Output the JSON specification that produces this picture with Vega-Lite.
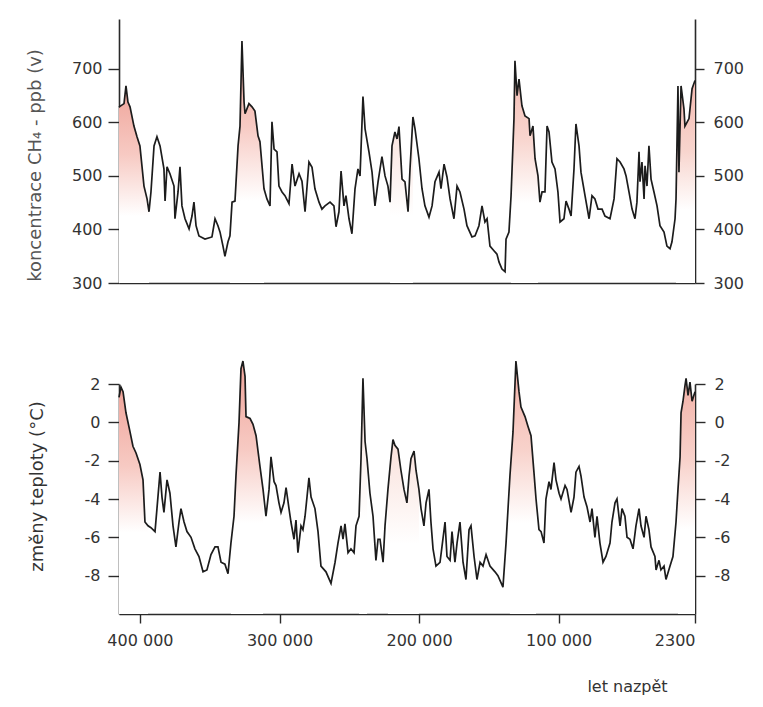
{
  "$schema": "https://vega.github.io/schema/vega-lite/v6.json",
  "background": "white",
  "padding": {"left": 26, "top": 19, "right": 8, "bottom": 8},
  "config": {
    "font": "DejaVu Sans",
    "view": {"stroke": null},
    "axis": {
      "grid": false,
      "domainColor": "#2a2a2a",
      "domainWidth": 1.6,
      "tickColor": "#2a2a2a",
      "tickWidth": 1.4,
      "labelColor": "#333333",
      "labelFont": "DejaVu Sans",
      "labelFontSize": 16,
      "titleColor": "#444444",
      "titleFont": "DejaVu Sans",
      "titleFontSize": 18,
      "titleFontWeight": "normal"
    }
  },
  "datasets": {
    "ch4": [
      {"age": 415000, "ch4": 628}, {"age": 414300, "ch4": 630}, {"age": 411400, "ch4": 635}, {"age": 410000, "ch4": 668},
      {"age": 408600, "ch4": 638}, {"age": 407100, "ch4": 629}, {"age": 404300, "ch4": 593}, {"age": 402100, "ch4": 573},
      {"age": 400000, "ch4": 556}, {"age": 397100, "ch4": 481}, {"age": 394900, "ch4": 457}, {"age": 393500, "ch4": 433},
      {"age": 392100, "ch4": 470}, {"age": 389900, "ch4": 556}, {"age": 387800, "ch4": 573}, {"age": 385600, "ch4": 556},
      {"age": 382800, "ch4": 513}, {"age": 382000, "ch4": 453}, {"age": 380600, "ch4": 517}, {"age": 378500, "ch4": 504},
      {"age": 375600, "ch4": 481}, {"age": 374900, "ch4": 420}, {"age": 372700, "ch4": 470}, {"age": 371300, "ch4": 517},
      {"age": 369900, "ch4": 444}, {"age": 367700, "ch4": 420}, {"age": 364800, "ch4": 401}, {"age": 362700, "ch4": 425},
      {"age": 361300, "ch4": 451}, {"age": 359800, "ch4": 407}, {"age": 357700, "ch4": 388}, {"age": 353400, "ch4": 382},
      {"age": 348400, "ch4": 386}, {"age": 346200, "ch4": 420}, {"age": 344100, "ch4": 407}, {"age": 342600, "ch4": 395},
      {"age": 340500, "ch4": 369}, {"age": 339100, "ch4": 350}, {"age": 336900, "ch4": 377}, {"age": 335500, "ch4": 388},
      {"age": 334000, "ch4": 451}, {"age": 331900, "ch4": 453}, {"age": 329700, "ch4": 556}, {"age": 328300, "ch4": 593},
      {"age": 326900, "ch4": 752}, {"age": 325400, "ch4": 638}, {"age": 324700, "ch4": 616}, {"age": 321900, "ch4": 635},
      {"age": 319700, "ch4": 629}, {"age": 317600, "ch4": 621}, {"age": 315400, "ch4": 575}, {"age": 314000, "ch4": 564},
      {"age": 311100, "ch4": 476}, {"age": 309000, "ch4": 457}, {"age": 306800, "ch4": 444}, {"age": 305400, "ch4": 601},
      {"age": 303900, "ch4": 550}, {"age": 301800, "ch4": 545}, {"age": 300400, "ch4": 481}, {"age": 298200, "ch4": 470},
      {"age": 296100, "ch4": 463}, {"age": 293200, "ch4": 448}, {"age": 291000, "ch4": 522}, {"age": 288900, "ch4": 481},
      {"age": 286000, "ch4": 504}, {"age": 283900, "ch4": 490}, {"age": 281700, "ch4": 433}, {"age": 278900, "ch4": 526},
      {"age": 276700, "ch4": 516}, {"age": 274600, "ch4": 476}, {"age": 271700, "ch4": 451}, {"age": 269600, "ch4": 438},
      {"age": 267400, "ch4": 444}, {"age": 263800, "ch4": 451}, {"age": 261000, "ch4": 444}, {"age": 259500, "ch4": 405},
      {"age": 257400, "ch4": 433}, {"age": 255900, "ch4": 509}, {"age": 253800, "ch4": 444}, {"age": 252400, "ch4": 463},
      {"age": 250200, "ch4": 420}, {"age": 248100, "ch4": 392}, {"age": 245900, "ch4": 476}, {"age": 243800, "ch4": 513},
      {"age": 242300, "ch4": 500}, {"age": 240200, "ch4": 648}, {"age": 238700, "ch4": 588}, {"age": 235900, "ch4": 545},
      {"age": 233700, "ch4": 507}, {"age": 231600, "ch4": 444}, {"age": 229400, "ch4": 489}, {"age": 226600, "ch4": 536},
      {"age": 224400, "ch4": 500}, {"age": 222300, "ch4": 481}, {"age": 220800, "ch4": 451}, {"age": 219400, "ch4": 556},
      {"age": 217300, "ch4": 582}, {"age": 215800, "ch4": 569}, {"age": 214400, "ch4": 592}, {"age": 212200, "ch4": 494},
      {"age": 210100, "ch4": 489}, {"age": 207900, "ch4": 433}, {"age": 206500, "ch4": 513}, {"age": 204400, "ch4": 610},
      {"age": 202900, "ch4": 588}, {"age": 200100, "ch4": 532}, {"age": 197900, "ch4": 476}, {"age": 195800, "ch4": 444},
      {"age": 192900, "ch4": 423}, {"age": 190700, "ch4": 444}, {"age": 188600, "ch4": 489}, {"age": 185700, "ch4": 507},
      {"age": 184300, "ch4": 476}, {"age": 182100, "ch4": 522}, {"age": 180000, "ch4": 498}, {"age": 177800, "ch4": 457},
      {"age": 175000, "ch4": 420}, {"age": 172800, "ch4": 481}, {"age": 170700, "ch4": 470}, {"age": 167800, "ch4": 438},
      {"age": 165700, "ch4": 407}, {"age": 162100, "ch4": 386}, {"age": 159900, "ch4": 388}, {"age": 157100, "ch4": 407},
      {"age": 154900, "ch4": 444}, {"age": 152800, "ch4": 414}, {"age": 151300, "ch4": 420}, {"age": 149200, "ch4": 369},
      {"age": 145600, "ch4": 358}, {"age": 144200, "ch4": 354}, {"age": 142700, "ch4": 339}, {"age": 140600, "ch4": 326},
      {"age": 138400, "ch4": 321}, {"age": 137700, "ch4": 382}, {"age": 135600, "ch4": 395}, {"age": 134100, "ch4": 463},
      {"age": 132000, "ch4": 607}, {"age": 131300, "ch4": 715}, {"age": 129800, "ch4": 650}, {"age": 128400, "ch4": 681},
      {"age": 126300, "ch4": 631}, {"age": 124100, "ch4": 612}, {"age": 121200, "ch4": 607}, {"age": 120500, "ch4": 575},
      {"age": 118400, "ch4": 593}, {"age": 116900, "ch4": 532}, {"age": 114800, "ch4": 500}, {"age": 113400, "ch4": 451},
      {"age": 111900, "ch4": 470}, {"age": 109800, "ch4": 470}, {"age": 108300, "ch4": 593}, {"age": 106900, "ch4": 582},
      {"age": 104800, "ch4": 526}, {"age": 102600, "ch4": 513}, {"age": 100500, "ch4": 470}, {"age": 99000, "ch4": 414},
      {"age": 96200, "ch4": 420}, {"age": 94700, "ch4": 453}, {"age": 92600, "ch4": 438}, {"age": 91100, "ch4": 425},
      {"age": 89000, "ch4": 513}, {"age": 87600, "ch4": 597}, {"age": 85400, "ch4": 556}, {"age": 84000, "ch4": 507},
      {"age": 81100, "ch4": 463}, {"age": 78200, "ch4": 420}, {"age": 76100, "ch4": 463}, {"age": 74000, "ch4": 457},
      {"age": 71800, "ch4": 438}, {"age": 68900, "ch4": 438}, {"age": 66800, "ch4": 425}, {"age": 63200, "ch4": 420},
      {"age": 60300, "ch4": 457}, {"age": 58200, "ch4": 532}, {"age": 56000, "ch4": 526}, {"age": 53200, "ch4": 513},
      {"age": 51700, "ch4": 500}, {"age": 49600, "ch4": 470}, {"age": 47400, "ch4": 438}, {"age": 45300, "ch4": 420},
      {"age": 43900, "ch4": 451}, {"age": 42400, "ch4": 545}, {"age": 41700, "ch4": 489}, {"age": 40300, "ch4": 526},
      {"age": 38800, "ch4": 457}, {"age": 38100, "ch4": 519}, {"age": 36700, "ch4": 481}, {"age": 35300, "ch4": 556},
      {"age": 33800, "ch4": 494}, {"age": 31700, "ch4": 470}, {"age": 29500, "ch4": 444}, {"age": 27400, "ch4": 407},
      {"age": 24500, "ch4": 395}, {"age": 22400, "ch4": 369}, {"age": 20200, "ch4": 364}, {"age": 18800, "ch4": 377},
      {"age": 16600, "ch4": 420}, {"age": 15900, "ch4": 457}, {"age": 14500, "ch4": 668}, {"age": 13800, "ch4": 507},
      {"age": 12300, "ch4": 668}, {"age": 10200, "ch4": 625}, {"age": 9500, "ch4": 593}, {"age": 6600, "ch4": 607},
      {"age": 4400, "ch4": 663}, {"age": 2300, "ch4": 678}
    ],
    "temp": [
      {"age": 415000, "temp": 1.3}, {"age": 413600, "temp": 1.84}, {"age": 412100, "temp": 1.6}, {"age": 410000, "temp": 0.5},
      {"age": 407100, "temp": -0.5}, {"age": 405000, "temp": -1.25}, {"age": 402800, "temp": -1.6}, {"age": 400000, "temp": -2.2},
      {"age": 397800, "temp": -3.0}, {"age": 396400, "temp": -5.2}, {"age": 394200, "temp": -5.4}, {"age": 392100, "temp": -5.5},
      {"age": 389200, "temp": -5.7}, {"age": 387800, "temp": -4.5}, {"age": 385600, "temp": -2.6}, {"age": 384200, "temp": -3.9},
      {"age": 382800, "temp": -4.7}, {"age": 380600, "temp": -3.0}, {"age": 378500, "temp": -3.7}, {"age": 376300, "temp": -5.4},
      {"age": 374200, "temp": -6.5}, {"age": 372000, "temp": -5.2}, {"age": 370600, "temp": -4.5}, {"age": 368400, "temp": -5.2},
      {"age": 366300, "temp": -5.7}, {"age": 363400, "temp": -6.0}, {"age": 360600, "temp": -6.6}, {"age": 357700, "temp": -7.0},
      {"age": 354800, "temp": -7.8}, {"age": 352000, "temp": -7.7}, {"age": 349100, "temp": -6.9}, {"age": 346200, "temp": -6.5},
      {"age": 344100, "temp": -6.5}, {"age": 341900, "temp": -7.3}, {"age": 339100, "temp": -7.4}, {"age": 336900, "temp": -7.9},
      {"age": 334800, "temp": -6.3}, {"age": 332600, "temp": -4.9}, {"age": 331200, "temp": -2.8}, {"age": 329000, "temp": 0.0},
      {"age": 327600, "temp": 2.8}, {"age": 326200, "temp": 3.2}, {"age": 324700, "temp": 2.4}, {"age": 324000, "temp": 0.3},
      {"age": 321100, "temp": 0.2}, {"age": 319000, "temp": -0.1}, {"age": 316800, "temp": -0.7}, {"age": 314000, "temp": -2.3},
      {"age": 311800, "temp": -3.5}, {"age": 309700, "temp": -4.9}, {"age": 307500, "temp": -3.5}, {"age": 306100, "temp": -1.8},
      {"age": 303900, "temp": -3.1}, {"age": 302500, "temp": -3.3}, {"age": 300400, "temp": -4.2}, {"age": 298900, "temp": -4.7},
      {"age": 296800, "temp": -4.2}, {"age": 295300, "temp": -3.4}, {"age": 293200, "temp": -4.5}, {"age": 291800, "temp": -5.2},
      {"age": 289600, "temp": -6.1}, {"age": 288200, "temp": -5.1}, {"age": 286800, "temp": -6.8}, {"age": 284600, "temp": -5.4},
      {"age": 283200, "temp": -5.6}, {"age": 281700, "temp": -4.9}, {"age": 278900, "temp": -2.9}, {"age": 277400, "temp": -3.9},
      {"age": 274600, "temp": -4.5}, {"age": 272400, "temp": -5.7}, {"age": 270300, "temp": -7.5}, {"age": 266700, "temp": -7.8},
      {"age": 263100, "temp": -8.4}, {"age": 260200, "temp": -7.3}, {"age": 258100, "temp": -6.3}, {"age": 255900, "temp": -5.4},
      {"age": 254500, "temp": -6.1}, {"age": 253100, "temp": -5.3}, {"age": 250900, "temp": -6.8}, {"age": 248800, "temp": -6.6},
      {"age": 246600, "temp": -6.8}, {"age": 245200, "temp": -5.4}, {"age": 243000, "temp": -4.9}, {"age": 241600, "temp": -1.9},
      {"age": 240200, "temp": 2.3}, {"age": 238700, "temp": -1.0}, {"age": 237300, "temp": -1.9}, {"age": 235200, "temp": -3.7},
      {"age": 233000, "temp": -4.9}, {"age": 230900, "temp": -7.2}, {"age": 229400, "temp": -6.1}, {"age": 228000, "temp": -6.1},
      {"age": 225800, "temp": -7.3}, {"age": 224400, "temp": -5.4}, {"age": 222300, "temp": -3.5}, {"age": 220100, "temp": -1.8},
      {"age": 218700, "temp": -0.9}, {"age": 217300, "temp": -1.2}, {"age": 215100, "temp": -1.4}, {"age": 213000, "temp": -2.5},
      {"age": 210800, "temp": -3.5}, {"age": 208700, "temp": -4.2}, {"age": 207200, "temp": -2.8}, {"age": 205800, "temp": -1.9},
      {"age": 203600, "temp": -1.5}, {"age": 202200, "temp": -2.5}, {"age": 200100, "temp": -3.5}, {"age": 198600, "temp": -4.5},
      {"age": 196500, "temp": -5.4}, {"age": 195000, "temp": -4.2}, {"age": 192900, "temp": -3.5}, {"age": 191500, "temp": -5.2},
      {"age": 190000, "temp": -6.6}, {"age": 187900, "temp": -7.5}, {"age": 185000, "temp": -7.3}, {"age": 183600, "temp": -6.5},
      {"age": 181400, "temp": -5.2}, {"age": 180000, "temp": -7.0}, {"age": 177800, "temp": -7.2}, {"age": 176400, "temp": -5.7},
      {"age": 174300, "temp": -7.3}, {"age": 172800, "temp": -6.3}, {"age": 170700, "temp": -5.2}, {"age": 168500, "temp": -7.3},
      {"age": 166400, "temp": -8.2}, {"age": 164200, "temp": -5.6}, {"age": 162800, "temp": -5.4}, {"age": 160600, "temp": -7.0},
      {"age": 158500, "temp": -8.2}, {"age": 156300, "temp": -7.3}, {"age": 154200, "temp": -7.5}, {"age": 152000, "temp": -6.9},
      {"age": 149200, "temp": -7.5}, {"age": 145600, "temp": -7.8}, {"age": 143500, "temp": -8.0}, {"age": 139900, "temp": -8.6},
      {"age": 137700, "temp": -6.3}, {"age": 134900, "temp": -2.8}, {"age": 132700, "temp": -0.5}, {"age": 130600, "temp": 3.2},
      {"age": 128400, "temp": 1.6}, {"age": 127000, "temp": 0.8}, {"age": 124100, "temp": 0.3}, {"age": 122000, "temp": -0.2},
      {"age": 119800, "temp": -0.7}, {"age": 117700, "temp": -2.6}, {"age": 116200, "temp": -4.0}, {"age": 114100, "temp": -5.6},
      {"age": 112600, "temp": -5.7}, {"age": 110500, "temp": -6.3}, {"age": 109100, "temp": -4.0}, {"age": 106900, "temp": -3.1},
      {"age": 105500, "temp": -3.5}, {"age": 103300, "temp": -2.1}, {"age": 101900, "temp": -3.0}, {"age": 99700, "temp": -3.7},
      {"age": 98300, "temp": -4.0}, {"age": 95400, "temp": -3.3}, {"age": 94000, "temp": -3.5}, {"age": 91100, "temp": -4.7},
      {"age": 89000, "temp": -3.9}, {"age": 87600, "temp": -2.6}, {"age": 85400, "temp": -2.3}, {"age": 84000, "temp": -2.8},
      {"age": 81800, "temp": -3.9}, {"age": 79700, "temp": -4.4}, {"age": 77500, "temp": -5.2}, {"age": 76100, "temp": -4.5},
      {"age": 74000, "temp": -6.0}, {"age": 72500, "temp": -4.9}, {"age": 70400, "temp": -6.3}, {"age": 68200, "temp": -7.3},
      {"age": 66100, "temp": -7.0}, {"age": 63200, "temp": -6.3}, {"age": 61800, "temp": -5.2}, {"age": 59600, "temp": -4.2},
      {"age": 58200, "temp": -4.0}, {"age": 56000, "temp": -5.4}, {"age": 54600, "temp": -4.5}, {"age": 52500, "temp": -4.9},
      {"age": 51000, "temp": -6.0}, {"age": 48900, "temp": -6.1}, {"age": 46700, "temp": -6.6}, {"age": 44600, "temp": -5.4},
      {"age": 42400, "temp": -4.5}, {"age": 41000, "temp": -5.4}, {"age": 38800, "temp": -6.0}, {"age": 37400, "temp": -4.9},
      {"age": 35300, "temp": -5.6}, {"age": 33800, "temp": -6.5}, {"age": 31000, "temp": -7.0}, {"age": 30200, "temp": -7.7},
      {"age": 28100, "temp": -7.2}, {"age": 26700, "temp": -7.7}, {"age": 24500, "temp": -7.5}, {"age": 23100, "temp": -8.2},
      {"age": 20200, "temp": -7.5}, {"age": 18100, "temp": -7.0}, {"age": 15900, "temp": -5.2}, {"age": 14500, "temp": -3.5},
      {"age": 13000, "temp": -1.8}, {"age": 12300, "temp": 0.5}, {"age": 10900, "temp": 1.1}, {"age": 9500, "temp": 1.9},
      {"age": 8700, "temp": 2.3}, {"age": 7300, "temp": 1.4}, {"age": 5900, "temp": 2.1}, {"age": 4400, "temp": 1.1},
      {"age": 2300, "temp": 1.6}
    ]
  },
  "bounds": "flush",
  "spacing": 101,
  "vconcat": [
    {
      "width": 576,
      "height": 264,
      "data": {"name": "ch4"},
      "layer": [
        {
          "transform": [{"filter": "datum.age >= 393000"}],
          "mark": {"type": "area", "color": {"gradient": "linear", "x1": 0, "y1": 0, "x2": 0, "y2": 1, "stops": [{"offset": 0, "color": "#efa49a"}, {"offset": 0.35, "color": "#f7cac3"}, {"offset": 0.66, "color": "#ffffff"}]}},
          "encoding": {
            "x": {"field": "age", "type": "quantitative", "scale": {"domain": [415000, 2300]}, "axis": null},
            "y": {"field": "ch4", "type": "quantitative", "scale": {"domain": [300, 793], "zero": false}, "axis": null},
            "y2": {"datum": 300}
          }
        },
        {
          "transform": [{"filter": "datum.age >= 310000 && datum.age <= 335500"}],
          "mark": {"type": "area", "color": {"gradient": "linear", "x1": 0, "y1": 0, "x2": 0, "y2": 1, "stops": [{"offset": 0, "color": "#efa49a"}, {"offset": 0.35, "color": "#f7cac3"}, {"offset": 0.66, "color": "#ffffff"}]}},
          "encoding": {
            "x": {"field": "age", "type": "quantitative", "scale": {"domain": [415000, 2300]}, "axis": null},
            "y": {"field": "ch4", "type": "quantitative", "scale": {"domain": [300, 793], "zero": false}, "axis": null},
            "y2": {"datum": 300}
          }
        },
        {
          "transform": [{"filter": "datum.age >= 203000 && datum.age <= 222000"}],
          "mark": {"type": "area", "color": {"gradient": "linear", "x1": 0, "y1": 0, "x2": 0, "y2": 1, "stops": [{"offset": 0, "color": "#f9e0da"}, {"offset": 0.6, "color": "#ffffff"}]}},
          "encoding": {
            "x": {"field": "age", "type": "quantitative", "scale": {"domain": [415000, 2300]}, "axis": null},
            "y": {"field": "ch4", "type": "quantitative", "scale": {"domain": [300, 793], "zero": false}, "axis": null},
            "y2": {"datum": 300}
          }
        },
        {
          "transform": [{"filter": "datum.age >= 114500 && datum.age <= 134500"}],
          "mark": {"type": "area", "color": {"gradient": "linear", "x1": 0, "y1": 0, "x2": 0, "y2": 1, "stops": [{"offset": 0, "color": "#f3b9b0"}, {"offset": 0.35, "color": "#f8d5ce"}, {"offset": 0.64, "color": "#ffffff"}]}},
          "encoding": {
            "x": {"field": "age", "type": "quantitative", "scale": {"domain": [415000, 2300]}, "axis": null},
            "y": {"field": "ch4", "type": "quantitative", "scale": {"domain": [300, 793], "zero": false}, "axis": null},
            "y2": {"datum": 300}
          }
        },
        {
          "transform": [{"filter": "datum.age <= 15900"}],
          "mark": {"type": "area", "color": {"gradient": "linear", "x1": 0, "y1": 0, "x2": 0, "y2": 1, "stops": [{"offset": 0, "color": "#f3b9b0"}, {"offset": 0.35, "color": "#f8d5ce"}, {"offset": 0.64, "color": "#ffffff"}]}},
          "encoding": {
            "x": {"field": "age", "type": "quantitative", "scale": {"domain": [415000, 2300]}, "axis": null},
            "y": {"field": "ch4", "type": "quantitative", "scale": {"domain": [300, 793], "zero": false}, "axis": null},
            "y2": {"datum": 300}
          }
        },
        {
          "mark": {"type": "line", "color": "#1c1c1c", "strokeWidth": 1.7},
          "encoding": {
            "x": {
              "field": "age", "type": "quantitative", "scale": {"domain": [415000, 2300]},
              "axis": {"title": null, "labels": false, "ticks": false, "domain": true}
            },
            "y": {
              "field": "ch4", "type": "quantitative", "scale": {"domain": [300, 793], "zero": false},
              "axis": {
                "orient": "left", "values": [300, 400, 500, 600, 700], "tickSize": 11, "labelPadding": 6,
                "title": "koncentrace CH₄ - ppb (v)", "titleColor": "#555555",
                "titleX": -84, "titleY": 146, "titleAngle": -90, "titleAlign": "center", "titleBaseline": "middle"
              }
            }
          }
        },
        {
          "mark": {"type": "line", "strokeOpacity": 0},
          "encoding": {
            "x": {"field": "age", "type": "quantitative", "scale": {"domain": [415000, 2300]}, "axis": null},
            "y": {
              "field": "ch4", "type": "quantitative", "scale": {"domain": [300, 793], "zero": false},
              "axis": {"orient": "right", "values": [300, 400, 500, 600, 700], "tickSize": 9, "labelPadding": 9, "title": null}
            }
          }
        }
      ],
      "resolve": {"axis": {"x": "independent", "y": "independent"}}
    },
    {
      "width": 576,
      "height": 230,
      "data": {"name": "temp"},
      "layer": [
        {
          "transform": [{"filter": "datum.age >= 394000"}],
          "mark": {"type": "area", "color": {"gradient": "linear", "x1": 0, "y1": 0, "x2": 0, "y2": 1, "stops": [{"offset": 0, "color": "#efa49a"}, {"offset": 0.35, "color": "#f7cac3"}, {"offset": 0.64, "color": "#ffffff"}]}},
          "encoding": {
            "x": {"field": "age", "type": "quantitative", "scale": {"domain": [415000, 2300]}, "axis": null},
            "y": {"field": "temp", "type": "quantitative", "scale": {"domain": [-10, 2], "zero": false}, "axis": null},
            "y2": {"datum": -10}
          }
        },
        {
          "transform": [{"filter": "datum.age >= 311000 && datum.age <= 335000"}],
          "mark": {"type": "area", "color": {"gradient": "linear", "x1": 0, "y1": 0, "x2": 0, "y2": 1, "stops": [{"offset": 0, "color": "#efa49a"}, {"offset": 0.35, "color": "#f7cac3"}, {"offset": 0.64, "color": "#ffffff"}]}},
          "encoding": {
            "x": {"field": "age", "type": "quantitative", "scale": {"domain": [415000, 2300]}, "axis": null},
            "y": {"field": "temp", "type": "quantitative", "scale": {"domain": [-10, 2], "zero": false}, "axis": null},
            "y2": {"datum": -10}
          }
        },
        {
          "transform": [{"filter": "datum.age >= 236500 && datum.age <= 243500"}],
          "mark": {"type": "area", "color": {"gradient": "linear", "x1": 0, "y1": 0, "x2": 0, "y2": 1, "stops": [{"offset": 0, "color": "#f9e0da"}, {"offset": 0.6, "color": "#ffffff"}]}},
          "encoding": {
            "x": {"field": "age", "type": "quantitative", "scale": {"domain": [415000, 2300]}, "axis": null},
            "y": {"field": "temp", "type": "quantitative", "scale": {"domain": [-10, 2], "zero": false}, "axis": null},
            "y2": {"datum": -10}
          }
        },
        {
          "transform": [{"filter": "datum.age >= 200000 && datum.age <= 222500"}],
          "mark": {"type": "area", "color": {"gradient": "linear", "x1": 0, "y1": 0, "x2": 0, "y2": 1, "stops": [{"offset": 0, "color": "#f9e0da"}, {"offset": 0.6, "color": "#ffffff"}]}},
          "encoding": {
            "x": {"field": "age", "type": "quantitative", "scale": {"domain": [415000, 2300]}, "axis": null},
            "y": {"field": "temp", "type": "quantitative", "scale": {"domain": [-10, 2], "zero": false}, "axis": null},
            "y2": {"datum": -10}
          }
        },
        {
          "transform": [{"filter": "datum.age >= 115500 && datum.age <= 134900"}],
          "mark": {"type": "area", "color": {"gradient": "linear", "x1": 0, "y1": 0, "x2": 0, "y2": 1, "stops": [{"offset": 0, "color": "#f2b1a7"}, {"offset": 0.35, "color": "#f8d2cb"}, {"offset": 0.64, "color": "#ffffff"}]}},
          "encoding": {
            "x": {"field": "age", "type": "quantitative", "scale": {"domain": [415000, 2300]}, "axis": null},
            "y": {"field": "temp", "type": "quantitative", "scale": {"domain": [-10, 2], "zero": false}, "axis": null},
            "y2": {"datum": -10}
          }
        },
        {
          "transform": [{"filter": "datum.age <= 14500"}],
          "mark": {"type": "area", "color": {"gradient": "linear", "x1": 0, "y1": 0, "x2": 0, "y2": 1, "stops": [{"offset": 0, "color": "#f2b1a7"}, {"offset": 0.35, "color": "#f8d2cb"}, {"offset": 0.64, "color": "#ffffff"}]}},
          "encoding": {
            "x": {"field": "age", "type": "quantitative", "scale": {"domain": [415000, 2300]}, "axis": null},
            "y": {"field": "temp", "type": "quantitative", "scale": {"domain": [-10, 2], "zero": false}, "axis": null},
            "y2": {"datum": -10}
          }
        },
        {
          "mark": {"type": "line", "color": "#1c1c1c", "strokeWidth": 1.7},
          "encoding": {
            "x": {
              "field": "age", "type": "quantitative", "scale": {"domain": [415000, 2300]},
              "axis": {
                "values": [400000, 300000, 200000, 100000, 2300],
                "labelExpr": "datum.value == 2300 ? '2300' : (datum.value / 1000) + ' 000'",
                "tickSize": 9, "labelPadding": 9,
                "title": "let nazpět", "titleFontSize": 16, "titleColor": "#333333",
                "titleX": 508, "titleY": 72, "titleAlign": "center", "titleBaseline": "middle"
              }
            },
            "y": {
              "field": "temp", "type": "quantitative", "scale": {"domain": [-10, 2], "zero": false},
              "axis": {
                "orient": "left", "values": [-8, -6, -4, -2, 0, 2], "tickSize": 11, "labelPadding": 8,
                "labelExpr": "datum.value < 0 ? '-' + abs(datum.value) : '' + datum.value",
                "title": "změny teploty (°C)", "titleColor": "#333333",
                "titleX": -82, "titleY": 102, "titleAngle": -90, "titleAlign": "center", "titleBaseline": "middle"
              }
            }
          }
        },
        {
          "mark": {"type": "line", "strokeOpacity": 0},
          "encoding": {
            "x": {"field": "age", "type": "quantitative", "scale": {"domain": [415000, 2300]}, "axis": null},
            "y": {
              "field": "temp", "type": "quantitative", "scale": {"domain": [-10, 2], "zero": false},
              "axis": {
                "orient": "right", "values": [-8, -6, -4, -2, 0, 2], "tickSize": 10, "labelPadding": 9, "title": null,
                "labelExpr": "datum.value < 0 ? '-' + abs(datum.value) : '' + datum.value"
              }
            }
          }
        }
      ],
      "resolve": {"axis": {"x": "independent", "y": "independent"}}
    }
  ]
}
